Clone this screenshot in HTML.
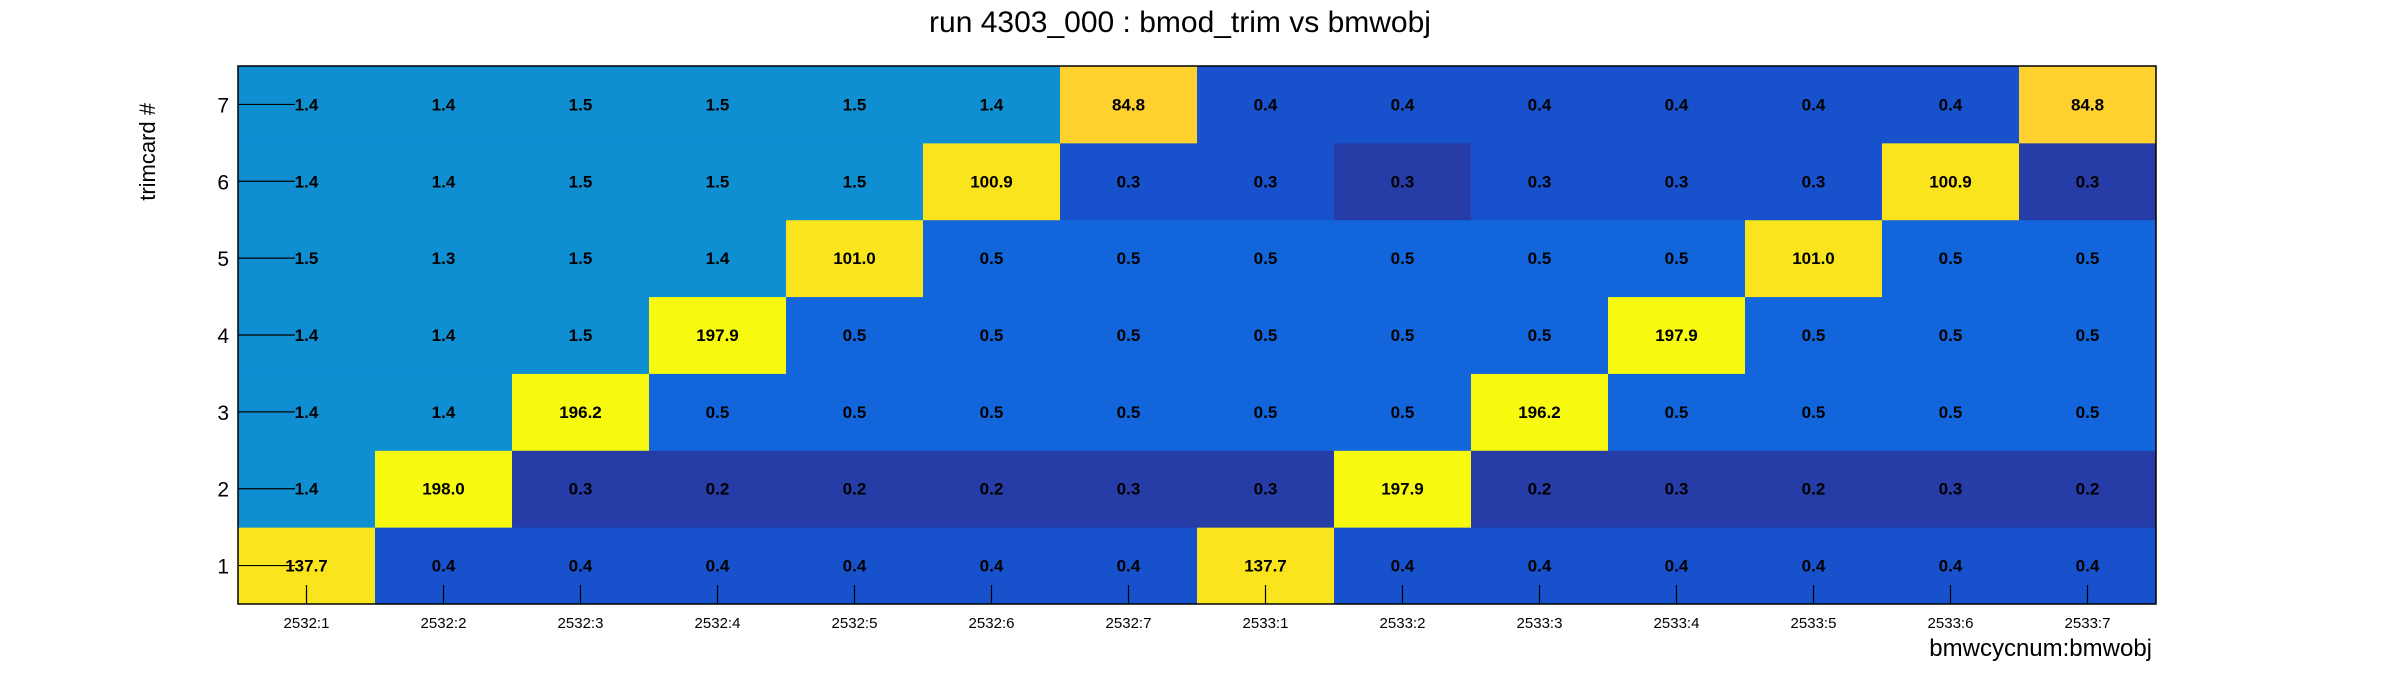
<!DOCTYPE html>
<html><head><meta charset="utf-8"><style>
body{margin:0;background:#fff;width:2396px;height:672px;overflow:hidden}
svg{font-family:"Liberation Sans",sans-serif}
</style></head><body>
<svg id="c" width="2396" height="672" xmlns="http://www.w3.org/2000/svg">
<text x="1180" y="32" font-size="30" text-anchor="middle">run 4303_000 : bmod_trim vs bmwobj</text>
<text transform="translate(155,103) rotate(-90)" font-size="22" text-anchor="end">trimcard #</text>
<text x="2152" y="656" font-size="24" text-anchor="end">bmwcycnum:bmwobj</text>
<g id="cells"></g><g id="axes"></g>
</svg>
<script>
const categories=["2532:1","2532:2","2532:3","2532:4","2532:5","2532:6","2532:7","2533:1","2533:2","2533:3","2533:4","2533:5","2533:6","2533:7"];
const yLabels=["1","2","3","4","5","6","7"];
const row1=[137.7,0.4,0.4,0.4,0.4,0.4,0.4,137.7,0.4,0.4,0.4,0.4,0.4,0.4];
const row2=[1.4,198.0,0.26,0.2,0.2,0.2,0.26,0.26,197.9,0.2,0.26,0.2,0.26,0.2];
const row3=[1.4,1.4,196.2,0.5,0.5,0.5,0.5,0.5,0.5,196.2,0.5,0.5,0.5,0.5];
const row4=[1.4,1.4,1.5,197.9,0.5,0.5,0.5,0.5,0.5,0.5,197.9,0.5,0.5,0.5];
const row5=[1.5,1.3,1.5,1.4,101.0,0.5,0.5,0.5,0.5,0.5,0.5,101.0,0.5,0.5];
const row6=[1.4,1.4,1.5,1.5,1.5,100.9,0.32,0.32,0.27,0.32,0.32,0.32,100.9,0.27];
const row7=[1.4,1.4,1.5,1.5,1.5,1.4,84.8,0.4,0.4,0.4,0.4,0.4,0.4,84.8];
const rows=[row1,row2,row3,row4,row5,row6,row7];
const L=238,R=2156,T=66,B=604;
const cw=(R-L)/categories.length, rh=(B-T)/yLabels.length;
const xPos=i=>L+i*cw, yPos=j=>B-(j+1)*rh;
function col(v){if(v<0.285)return"#263ca6";if(v<0.45)return"#1752cc";if(v<0.8)return"#1265db";if(v<5)return"#0f8fd2";if(v<90)return"#fed12e";if(v<150)return"#f9e41e";return"#f7fa0f";}
const NS="http://www.w3.org/2000/svg";
const cg=document.getElementById('cells'),ag=document.getElementById('axes');
function mk(t,a,p){const e=document.createElementNS(NS,t);for(const k in a)e.setAttribute(k,a[k]);p.appendChild(e);return e;}
rows.forEach((r,j)=>r.forEach((v,i)=>{
 const rc=mk('rect',{x:xPos(i),y:yPos(j),width:cw+0.5,height:rh+0.5,fill:col(v)},cg);
 
 
 const t=mk('text',{x:xPos(i)+cw/2,y:yPos(j)+rh/2+6,'font-size':17,'font-weight':'bold','text-anchor':'middle'},cg);
 
 
 t.textContent=v.toFixed(1);
}));
const fr=mk('rect',{x:L,y:T,width:R-L,height:B-T,fill:'none',stroke:'#000','stroke-width':1.5},ag);


categories.forEach((c,i)=>{
 const x=xPos(i)+cw/2;
 mk('line',{x1:x,x2:x,y1:B,y2:B-19,stroke:'#000','stroke-width':1.2},ag);
 const t=mk('text',{x:x,y:628,'font-size':15,'text-anchor':'middle'},ag);
 
 
 t.textContent=c;
});
yLabels.forEach((l,j)=>{
 const y=yPos(j)+rh/2;
 mk('line',{x1:L,x2:L+57,y1:y,y2:y,stroke:'#000','stroke-width':1.2},ag);
 const t=mk('text',{x:229,y:y+8,'font-size':21,'text-anchor':'end'},ag);
 
 
 t.textContent=l;
});
</script>
</body></html>
